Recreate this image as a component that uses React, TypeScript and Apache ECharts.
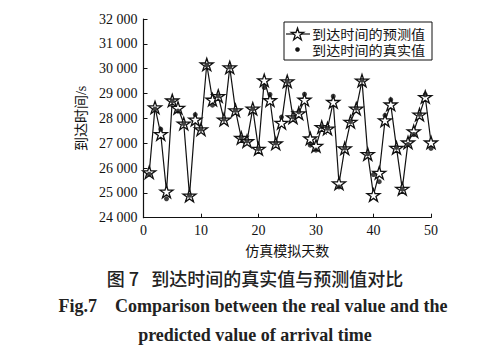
import React, { useEffect, useRef } from "react";
import * as echarts from "echarts";

const days: number[] = Array.from({ length: 50 }, (_, i) => i + 1);

const predicted: number[] = [
  25830, 28440, 27370, 25050, 28720, 28420, 27790, 24890, 27950, 27560,
  30170, 28750, 28900, 27950, 30050, 28320, 27210, 27080, 28390, 26770,
  29530, 28730, 26990, 27820, 29490, 28040, 28200, 28750, 27190, 26890,
  27650, 27590, 28660, 25380, 26790, 27860, 28390, 29520, 26560, 24910,
  25810, 27920, 28560, 26810, 25160, 27030, 27480, 28150, 28860, 27030,
];

const actual: number[] = [
  25750, 28380, 27560, 24760, 28700, 28290, 27790, 24900, 28150, 27560,
  30140, 28530, 28900, 27960, 30060, 28320, 27230, 27080, 28380, 26780,
  29240, 28960, 27000, 28050, 29480, 28050, 28260, 28970, 26920, 26720,
  27660, 27600, 28890, 25240, 26800, 27870, 28410, 29530, 26570, 25740,
  25450, 28120, 28750, 26830, 25150, 26950, 27350, 28160, 28950, 26790,
];

const seriesNames: string[] = ["到达时间的预测值", "到达时间的真实值"];
const xAxisName = "仿真模拟天数";
const yAxisName = "到达时间/s";
const captionZh = "图 7   到达时间的真实值与预测值对比";
const captionEn1 = "Fig.7    Comparison between the real value and the";
const captionEn2 = "predicted value of arrival time";

const STAR =
  "path://M0,-10 L2.245,-3.09 L9.511,-3.09 L3.633,1.18 L5.878,8.09 L0,3.82 L-5.878,8.09 L-3.633,1.18 L-9.511,-3.09 L-2.245,-3.09 Z";

const starPoints = (cx: number, cy: number, R: number) => {
  const pts: number[][] = [];
  for (let i = 0; i < 10; i++) {
    const r = i % 2 === 0 ? R : R * 0.382;
    const a = (-90 + i * 36) * (Math.PI / 180);
    pts.push([cx + r * Math.cos(a), cy + r * Math.sin(a)]);
  }
  return pts;
};

const SERIF = '"Liberation Serif", "Times New Roman", serif';
const CJK = '"Noto Sans CJK SC", sans-serif';
const MIX = '"Liberation Serif", "Noto Sans CJK SC", serif';

export default function App() {
  const ref = useRef<HTMLDivElement>(null);
  useEffect(() => {
    document.body.style.margin = "0";
    const chart = echarts.init(ref.current!, undefined, { renderer: "svg" });
    chart.setOption({
      animation: false,
      backgroundColor: "#ffffff",
      grid: { left: 143.5, top: 19, width: 287.5, height: 198.7 },
      xAxis: {
        type: "value",
        min: 0,
        max: 50,
        interval: 10,
        name: xAxisName,
        nameLocation: "middle",
        nameGap: 25,
        nameTextStyle: { fontFamily: CJK, fontSize: 14, color: "#111" },
        axisLine: { lineStyle: { color: "#111", width: 1.2 } },
        axisTick: { inside: true, length: 4, lineStyle: { color: "#111" } },
        axisLabel: { fontFamily: SERIF, fontSize: 14, color: "#111", margin: 6 },
        splitLine: { show: false },
      },
      yAxis: {
        type: "value",
        min: 24000,
        max: 32000,
        interval: 1000,
        name: yAxisName,
        nameLocation: "middle",
        nameGap: 52,
        nameRotate: 90,
        nameTextStyle: { fontFamily: MIX, fontSize: 14, color: "#111" },
        axisLine: { show: true, lineStyle: { color: "#111", width: 1.2 } },
        axisTick: { show: true, inside: true, length: 4, lineStyle: { color: "#111" } },
        axisLabel: {
          fontFamily: SERIF,
          fontSize: 14,
          color: "#111",
          margin: 6,
          formatter: (v: number) => {
            const s = String(v);
            return s.slice(0, s.length - 3) + " " + s.slice(-3);
          },
        },
        splitLine: { show: false },
      },
      series: [
        {
          name: seriesNames[0],
          type: "line",
          data: days.map((d, i) => [d, predicted[i]]),
          symbol: STAR,
          symbolSize: 13,
          symbolKeepAspect: true,
          lineStyle: { color: "#111", width: 1.2 },
          itemStyle: { color: "#ffffff", borderColor: "#111", borderWidth: 1.3 },
          z: 2,
        },
        {
          name: seriesNames[1],
          type: "scatter",
          data: days.map((d, i) => [d, actual[i]]),
          symbol: "circle",
          symbolSize: 5,
          itemStyle: { color: "#111" },
          z: 3,
        },
      ],
      graphic: [
        {
          type: "rect",
          shape: { x: 284, y: 22, width: 148, height: 38 },
          style: { fill: "#fff", stroke: "#111", lineWidth: 1 },
          z: 10,
        },
        {
          type: "line",
          shape: { x1: 286, y1: 34, x2: 310, y2: 34 },
          style: { stroke: "#111", lineWidth: 1.2 },
          z: 11,
        },
        {
          type: "polygon",
          shape: { points: starPoints(297.5, 34.5, 6.5) },
          style: { fill: "#fff", stroke: "#111", lineWidth: 1.3 },
          z: 12,
        },
        {
          type: "circle",
          shape: { cx: 297.5, cy: 49.5, r: 2.3 },
          style: { fill: "#111" },
          z: 12,
        },
        {
          type: "text",
          x: 312,
          y: 33.5,
          scaleX: 1.09,
          style: {
            text: seriesNames[0],
            font: `13px ${CJK}`,
            lineHeight: 13,
            fill: "#111",
            textVerticalAlign: "middle",
          },
          z: 12,
        },
        {
          type: "text",
          x: 312,
          y: 49.5,
          scaleX: 1.09,
          style: {
            text: seriesNames[1],
            font: `13px ${CJK}`,
            lineHeight: 13,
            fill: "#111",
            textVerticalAlign: "middle",
          },
          z: 12,
        },
        {
          type: "text",
          x: 255,
          y: 278,
          style: {
            text: captionZh,
            font: `500 18px ${CJK}`,
            fill: "#222",
            textAlign: "center",
            textVerticalAlign: "middle",
          },
        },
        {
          type: "text",
          x: 253,
          y: 306,
          style: {
            text: captionEn1,
            font: `bold 18px ${SERIF}`,
            fill: "#222",
            textAlign: "center",
            textVerticalAlign: "middle",
          },
        },
        {
          type: "text",
          x: 255,
          y: 335,
          style: {
            text: captionEn2,
            font: `bold 18px ${SERIF}`,
            fill: "#222",
            textAlign: "center",
            textVerticalAlign: "middle",
          },
        },
      ],
    });
    return () => chart.dispose();
  }, []);
  return <div ref={ref} style={{ width: 495, height: 354 }} />;
}
